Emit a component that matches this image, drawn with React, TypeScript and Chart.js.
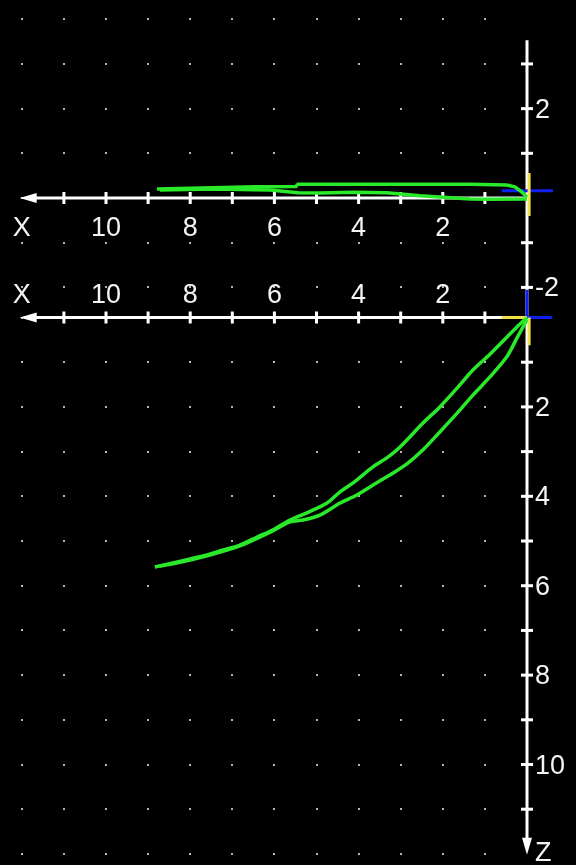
import React, { useEffect, useRef } from 'react';
import { Chart, registerables } from 'chart.js';

Chart.register(...registerables);

// ---- Data (plan view: X horizontal, Y up) ----
const planUpperX = [0, 0.12, 0.29, 0.48, 1.35, 3.02, 5.44, 5.49, 6.46, 7.48, 8.79];
const planUpperY = [0.02, 0.13, 0.25, 0.29, 0.31, 0.31, 0.31, 0.26, 0.25, 0.23, 0.2];
const planLowerX = [0, 0.88, 1.35, 1.9, 2.54, 3.33, 4.13, 4.92, 5.44, 6.1, 7.48, 8.72];
const planLowerY = [-0.02, -0.03, -0.02, 0.01, 0.05, 0.12, 0.13, 0.11, 0.12, 0.18, 0.2, 0.18];

// ---- Data (elevation view: X horizontal, Z down) ----
const elevOuterX = [0, 0.24, 0.48, 0.88, 1.28, 1.66, 2.07, 2.47, 3.02, 3.33, 3.66, 4.13, 4.44, 4.75, 5.23, 5.63, 6.03, 6.41, 6.82, 7.22, 7.6, 8.0, 8.41, 8.84];
const elevOuterZ = [0, 0.21, 0.44, 0.82, 1.17, 1.58, 2.0, 2.36, 2.9, 3.14, 3.34, 3.7, 3.9, 4.15, 4.37, 4.53, 4.75, 4.91, 5.09, 5.2, 5.31, 5.4, 5.49, 5.58];
const elevInnerX = [0, 0.24, 0.48, 0.88, 1.28, 1.66, 2.07, 2.47, 2.83, 3.18, 3.61, 4.04, 4.44, 4.92, 5.32, 5.63, 6.03, 6.82, 7.6, 8.41, 8.72];
const elevInnerZ = [0.05, 0.46, 0.88, 1.33, 1.73, 2.14, 2.56, 2.96, 3.26, 3.48, 3.72, 3.97, 4.15, 4.42, 4.53, 4.57, 4.77, 5.11, 5.33, 5.51, 5.56];

// ---- Local frame markers ----
const planBlueX = [0.6, -0.62];
const planBlueY = [0.16, 0.16];
const planYellowX = [-0.05, -0.05];
const planYellowY = [0.56, -0.4];
const elevBlueVX = [0, 0];
const elevBlueVZ = [-0.62, 0];
const elevBlueHX = [0, -0.6];
const elevBlueHZ = [0, 0];
const elevYellowHX = [0.6, 0];
const elevYellowHZ = [0, 0];
const elevYellowVX = [-0.05, -0.05];
const elevYellowVZ = [0, 0.62];

// ---- Axes / ticks / labels ----
const xTicks = [1, 2, 3, 4, 5, 6, 7, 8, 9, 10, 11];
const xLabelValues = [12, 10, 8, 6, 4, 2];
const xLabelTexts = ['X', '10', '8', '6', '4', '2'];
const yTicks = [3, 2, 1, -1, -2];
const yLabelValues = [2, -2];
const yLabelTexts = ['2', '-2'];
const zTicks = [1, 2, 3, 4, 5, 6, 7, 8, 9, 10, 11];
const zLabelValues = [2, 4, 6, 8, 10, 11.95];
const zLabelTexts = ['2', '4', '6', '8', '10', 'Z'];
const gridCols = [1, 2, 3, 4, 5, 6, 7, 8, 9, 10, 11, 12];
const gridRowsY = [4, 3, 2, 1, 0, -1, -2];
const gridRowsZ = [0, 1, 2, 3, 4, 5, 6, 7, 8, 9, 10, 11, 12];
const xAxisTip = 12.05;
const yAxisTop = 3.53;
const zAxisTip = 12.02;

const toPts = (xs: number[], ys: number[]) => xs.map((x, i) => ({ x, y: ys[i] }));

const GREEN = '#2ae82a';
const BLUE = '#1020f0';
const YELLOW = '#f2e24a';

const axesPlugin = {
  id: 'customAxes',
  beforeDraw(chart: any) {
    const { ctx, width, height } = chart;
    ctx.save();
    ctx.fillStyle = '#000';
    ctx.fillRect(0, 0, width, height);
    ctx.restore();
  },
  beforeDatasetsDraw(chart: any) {
    const ctx = chart.ctx;
    const sx = chart.scales.x, sy = chart.scales.y, sz = chart.scales.z;
    ctx.save();
    // grid dots
    ctx.fillStyle = '#b4b4b4';
    gridCols.forEach((c) => {
      const px = Math.round(sx.getPixelForValue(c));
      gridRowsY.forEach((r) => {
        const py = Math.round(sy.getPixelForValue(r));
        ctx.fillRect(px - 1, py - 1, 2, 2);
      });
      gridRowsZ.forEach((r) => {
        const py = Math.round(sz.getPixelForValue(r));
        ctx.fillRect(px - 1, py - 1, 2, 2);
      });
    });

    ctx.strokeStyle = '#fff';
    ctx.fillStyle = '#fff';
    ctx.lineWidth = 3;
    const ox = sx.getPixelForValue(0);
    const oy = sy.getPixelForValue(0);
    const oz = sz.getPixelForValue(0);
    const tipX = sx.getPixelForValue(xAxisTip);

    const drawXAxis = (py: number) => {
      ctx.beginPath();
      ctx.moveTo(ox, py);
      ctx.lineTo(tipX + 10, py);
      ctx.stroke();
      ctx.beginPath();
      ctx.moveTo(tipX, py);
      ctx.lineTo(tipX + 17, py - 5);
      ctx.lineTo(tipX + 17, py + 5);
      ctx.closePath();
      ctx.fill();
      xTicks.forEach((t) => {
        const px = sx.getPixelForValue(t);
        ctx.fillRect(px - 1.5, py - 6, 3, 12);
      });
    };
    drawXAxis(oy);
    drawXAxis(oz);

    // vertical axis
    const topPx = sy.getPixelForValue(yAxisTop);
    const tipZ = sz.getPixelForValue(zAxisTip);
    ctx.beginPath();
    ctx.moveTo(ox, topPx);
    ctx.lineTo(ox, tipZ - 10);
    ctx.stroke();
    ctx.beginPath();
    ctx.moveTo(ox, tipZ);
    ctx.lineTo(ox - 5, tipZ - 17);
    ctx.lineTo(ox + 5, tipZ - 17);
    ctx.closePath();
    ctx.fill();
    yTicks.forEach((t) => {
      const py = sy.getPixelForValue(t);
      ctx.fillRect(ox - 6, py - 1.5, 12, 3);
    });
    zTicks.forEach((t) => {
      const py = sz.getPixelForValue(t);
      ctx.fillRect(ox - 6, py - 1.5, 12, 3);
    });
    ctx.restore();
  },
  afterDatasetsDraw(chart: any) {
    const ctx = chart.ctx;
    const sx = chart.scales.x, sy = chart.scales.y, sz = chart.scales.z;
    const ox = sx.getPixelForValue(0);
    const oy = sy.getPixelForValue(0);
    const oz = sz.getPixelForValue(0);
    ctx.save();
    ctx.fillStyle = '#f4f4f4';
    ctx.font = '27px "Liberation Sans", Arial, sans-serif';
    ctx.textBaseline = 'alphabetic';
    ctx.textAlign = 'center';
    xLabelValues.forEach((v, i) => {
      const px = sx.getPixelForValue(v);
      ctx.fillText(xLabelTexts[i], px, oy + 38);
      ctx.fillText(xLabelTexts[i], px, oz - 15);
    });
    ctx.textAlign = 'left';
    yLabelValues.forEach((v, i) => {
      ctx.fillText(yLabelTexts[i], ox + 8, sy.getPixelForValue(v) + 9);
    });
    zLabelValues.forEach((v, i) => {
      ctx.fillText(zLabelTexts[i], ox + 8, sz.getPixelForValue(v) + 9);
    });
    ctx.restore();
  },
};

const lineDs = (data: any[], color: string, yAxisID: string, width = 3, tension = 0) => ({
  data,
  showLine: true,
  borderColor: color,
  backgroundColor: color,
  borderWidth: width,
  pointRadius: 0,
  tension,
  fill: false,
  xAxisID: 'x',
  yAxisID,
});

export default function App() {
  const canvasRef = useRef<HTMLCanvasElement | null>(null);
  useEffect(() => {
    document.body.style.margin = '0';
    document.body.style.background = '#000';
    const canvas = canvasRef.current;
    if (!canvas) return;
    const chart = new Chart(canvas, {
      type: 'scatter',
      data: {
        datasets: [
          lineDs(toPts(planUpperX, planUpperY), GREEN, 'y', 3.5),
          lineDs(toPts(planLowerX, planLowerY), GREEN, 'y', 3.5),
          lineDs(toPts(elevOuterX, elevOuterZ), GREEN, 'z', 3.5, 0.3),
          lineDs(toPts(elevInnerX, elevInnerZ), GREEN, 'z', 3.5, 0.3),
          lineDs(toPts(planYellowX, planYellowY), YELLOW, 'y'),
          lineDs(toPts(planBlueX, planBlueY), BLUE, 'y'),
          lineDs(toPts(elevYellowVX, elevYellowVZ), YELLOW, 'z'),
          lineDs(toPts(elevYellowHX, elevYellowHZ), YELLOW, 'z'),
          lineDs(toPts(elevBlueHX, elevBlueHZ), BLUE, 'z'),
          lineDs(toPts(elevBlueVX, elevBlueVZ), BLUE, 'z'),
        ],
      },
      options: {
        responsive: false,
        animation: false,
        devicePixelRatio: 1,
        events: [],
        layout: { padding: 0 },
        plugins: { legend: { display: false }, tooltip: { enabled: false } },
        scales: {
          x: { type: 'linear', display: false, reverse: true, min: -1.164, max: 12.518 },
          y: { type: 'linear', display: false, min: -14.922, max: 4.43 },
          z: { type: 'linear', axis: 'y', position: 'right', display: false, reverse: true, min: -7.103, max: 12.248 },
        },
      },
      plugins: [axesPlugin],
    } as any);
    return () => chart.destroy();
  }, []);
  return (
    <div style={{ width: 576, height: 865, background: '#000' }}>
      <canvas ref={canvasRef} width={576} height={865} style={{ display: 'block' }} />
    </div>
  );
}
